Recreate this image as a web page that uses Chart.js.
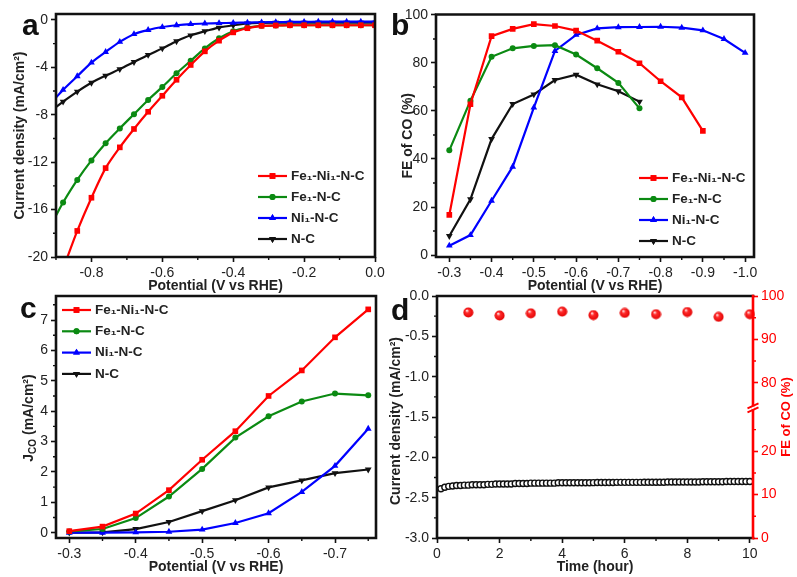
<!DOCTYPE html>
<html>
<head>
<meta charset="utf-8">
<title>CO2 reduction panels</title>
<script src="https://cdn.jsdelivr.net/npm/chart.js@4/dist/chart.umd.js"></script>
<style>
  html, body { margin: 0; padding: 0; background: #fff; }
  #page { position: relative; width: 797px; height: 577px; overflow: hidden; }
  canvas { position: absolute; }
  #chartA { left: 0; top: 0; }
  #chartB { left: 400px; top: 0; }
  #chartC { left: 0; top: 290px; }
  #chartD { left: 380px; top: 290px; }
  .letter { position: absolute; font: bold 30px/30px "Liberation Sans", sans-serif; color: #111; }
</style>
</head>
<body>
<div id="page">
  <canvas id="chartA" width="400" height="296"></canvas>
  <canvas id="chartB" width="397" height="296"></canvas>
  <canvas id="chartC" width="400" height="287"></canvas>
  <canvas id="chartD" width="417" height="287"></canvas>
  <div class="letter" style="left:22px;top:10px">a</div>
  <div class="letter" style="left:391px;top:10px">b</div>
  <div class="letter" style="left:20px;top:293px">c</div>
  <div class="letter" style="left:391px;top:295px">d</div>
</div>
<script>
/* Four panels, each one its own chart. */

const seriesNames = ["Fe₁-Ni₁-N-C", "Fe₁-N-C", "Ni₁-N-C", "N-C"];

// panel a
const aPotential = [-0.9, -0.88, -0.84, -0.8, -0.76, -0.72, -0.68, -0.64, -0.6, -0.56, -0.52, -0.48, -0.44, -0.4, -0.36, -0.32, -0.28, -0.24, -0.2, -0.16, -0.12, -0.08, -0.04, 0];
const aFeNi = [-22.5, -21, -17.8, -15, -12.5, -10.75, -9.2, -7.75, -6.4, -5.05, -3.8, -2.65, -1.75, -1.05, -0.7, -0.5, -0.47, -0.45, -0.45, -0.45, -0.45, -0.45, -0.45, -0.45];
const aFe = [-16.5, -15.4, -13.5, -11.85, -10.4, -9.15, -7.95, -6.75, -5.65, -4.5, -3.45, -2.4, -1.55, -0.95, -0.65, -0.5, -0.47, -0.45, -0.45, -0.45, -0.45, -0.45, -0.45, -0.45];
const aNi = [-6.55, -5.9, -4.75, -3.6, -2.7, -1.85, -1.2, -0.85, -0.6, -0.45, -0.35, -0.3, -0.27, -0.25, -0.22, -0.2, -0.18, -0.17, -0.16, -0.15, -0.15, -0.15, -0.15, -0.15];
const aNC = [-7.35, -6.9, -6.05, -5.3, -4.7, -4.15, -3.55, -2.95, -2.4, -1.8, -1.3, -0.95, -0.65, -0.45, -0.3, -0.25, -0.23, -0.23, -0.23, -0.23, -0.23, -0.23, -0.23, -0.23];
const aXTicks = [-0.8, -0.6, -0.4, -0.2, 0];
const aXMinor = [-0.9, -0.7, -0.5, -0.3, -0.1];
const aYTicks = [-20, -16, -12, -8, -4, 0];
const aYMinor = [-18, -14, -10, -6, -2];

// panel b
const bPotential = [-0.3, -0.35, -0.4, -0.45, -0.5, -0.55, -0.6, -0.65, -0.7, -0.75, -0.8, -0.85, -0.9, -0.95, -1.0];
const bFeNi = [16.7, 62.8, 91.2, 94.2, 96.2, 95.4, 93.5, 89.3, 84.7, 79.9, 72.4, 65.7, 51.7];
const bFe = [43.6, 64.3, 82.6, 86.1, 87.1, 87.4, 83.5, 77.8, 71.7, 61.1];
const bNi = [3.9, 8.3, 22.6, 36.8, 61.4, 85, 91.7, 94.4, 94.9, 95, 95.1, 94.7, 93.6, 90, 84.2];
const bNC = [7.9, 23.2, 48.3, 62.9, 66.9, 72.9, 75.1, 71.1, 68.2, 63.9];
const bXTicks = [-0.3, -0.4, -0.5, -0.6, -0.7, -0.8, -0.9, -1.0];
const bXMinor = [-0.35, -0.45, -0.55, -0.65, -0.75, -0.85, -0.95];
const bYTicks = [0, 20, 40, 60, 80, 100];
const bYMinor = [10, 30, 50, 70, 90];

// panel c
const cPotential = [-0.3, -0.35, -0.4, -0.45, -0.5, -0.55, -0.6, -0.65, -0.7, -0.75];
const cFeNi = [0.05, 0.2, 0.63, 1.4, 2.4, 3.34, 4.5, 5.34, 6.43, 7.35];
const cFe = [0.04, 0.12, 0.48, 1.19, 2.1, 3.13, 3.83, 4.32, 4.58, 4.52];
const cNi = [0, 0, 0.01, 0.03, 0.1, 0.32, 0.64, 1.34, 2.2, 3.42];
const cNC = [0, 0.01, 0.12, 0.35, 0.71, 1.07, 1.49, 1.72, 1.96, 2.08];
const cXTicks = [-0.3, -0.4, -0.5, -0.6, -0.7];
const cXMinor = [-0.35, -0.45, -0.55, -0.65, -0.75];
const cYTicks = [0, 1, 2, 3, 4, 5, 6, 7];
const cYMinor = [0.5, 1.5, 2.5, 3.5, 4.5, 5.5, 6.5, 7.5];

// panel d
const dTime = [0.125, 0.25, 0.375, 0.5, 0.625, 0.75, 0.875, 1, 1.125, 1.25, 1.375, 1.5, 1.625, 1.75, 1.875, 2, 2.125, 2.25, 2.375, 2.5, 2.625, 2.75, 2.875, 3, 3.125, 3.25, 3.375, 3.5, 3.625, 3.75, 3.875, 4, 4.125, 4.25, 4.375, 4.5, 4.625, 4.75, 4.875, 5, 5.125, 5.25, 5.375, 5.5, 5.625, 5.75, 5.875, 6, 6.125, 6.25, 6.375, 6.5, 6.625, 6.75, 6.875, 7, 7.125, 7.25, 7.375, 7.5, 7.625, 7.75, 7.875, 8, 8.125, 8.25, 8.375, 8.5, 8.625, 8.75, 8.875, 9, 9.125, 9.25, 9.375, 9.5, 9.625, 9.75, 9.875, 10];
const dCurrent = [-2.39, -2.37, -2.36, -2.355, -2.35, -2.35, -2.345, -2.345, -2.34, -2.34, -2.34, -2.34, -2.335, -2.335, -2.33, -2.33, -2.33, -2.33, -2.33, -2.325, -2.325, -2.325, -2.325, -2.32, -2.32, -2.32, -2.32, -2.32, -2.32, -2.32, -2.315, -2.315, -2.315, -2.315, -2.315, -2.315, -2.315, -2.315, -2.315, -2.314, -2.312, -2.312, -2.312, -2.312, -2.312, -2.31, -2.31, -2.31, -2.31, -2.31, -2.31, -2.31, -2.308, -2.308, -2.308, -2.308, -2.308, -2.308, -2.305, -2.305, -2.305, -2.305, -2.305, -2.305, -2.305, -2.305, -2.305, -2.302, -2.302, -2.302, -2.302, -2.302, -2.302, -2.3, -2.3, -2.3, -2.3, -2.3, -2.3, -2.3];
const dFeTime = [1, 2, 3, 4, 5, 6, 7, 8, 9, 10];
const dFeValues = [96.2, 95.5, 96, 96.4, 95.6, 96.1, 95.8, 96.3, 95.2, 95.8];
const dXTicks = [0, 2, 4, 6, 8, 10];
const dXMinor = [1, 3, 5, 7, 9];
const dYTicks = [-3, -2.5, -2, -1.5, -1, -0.5, 0];
const dYMinor = [-2.75, -2.25, -1.75, -1.25, -0.75, -0.25];
const dFeTicks = [0, 10, 20, 80, 90, 100];
const dFeMinor = [5, 15, 25, 85, 95];

const RED = "#ff0000";
const GREEN = "#0b8a12";
const BLUE = "#0000ff";
const INK = "#111111";
const TEXT = "#222222";
const FONT = "'Liberation Sans', Arial, sans-serif";

Chart.defaults.font.family = FONT;
Chart.defaults.color = TEXT;
Chart.defaults.animation = false;

// right axis of panel d has a cut between 30 and 74.2
class BrokenScale extends Chart.LinearScale {
  configure() {
    super.configure();
    this._valueRange -= 44.2;
  }
  getPixelForValue(value) {
    const folded = value <= 30 ? value : Math.max(30, value - 44.2);
    return super.getPixelForValue(folded);
  }
}
BrokenScale.id = "broken";
BrokenScale.defaults = Chart.LinearScale.defaults;
Chart.register(BrokenScale);

const styles = [
  { borderColor: RED, backgroundColor: RED, pointStyle: "rect", pointRadius: 4, pointRotation: 0 },
  { borderColor: GREEN, backgroundColor: GREEN, pointStyle: "circle", pointRadius: 3, pointRotation: 0 },
  { borderColor: BLUE, backgroundColor: BLUE, pointStyle: "triangle", pointRadius: 3.9, pointRotation: 0 },
  { borderColor: INK, backgroundColor: INK, pointStyle: "triangle", pointRadius: 3.9, pointRotation: 180 },
];

function zip(xs, ys) {
  return ys.map((y, i) => ({ x: xs[i], y }));
}

function fourSeries(xs, columns, extra) {
  return columns.map((ys, i) => ({
    label: seriesNames[i],
    data: zip(xs, ys),
    borderWidth: 2.2,
    pointBorderWidth: 0,
    ...styles[i],
    ...extra,
  }));
}

// axis box sizes are pinned so each plot sits where it does in the figure
function pinSize(size) {
  return (s) => {
    if (s.isHorizontal()) s.height = size;
    else s.width = size;
    s.paddingLeft = s.paddingRight = s.paddingTop = s.paddingBottom = 0;
  };
}

function axis(opts) {
  return {
    type: opts.type || "linear",
    position: opts.position,
    min: opts.min,
    max: opts.max,
    reverse: !!opts.reverse,
    minorTicks: opts.minor,
    afterBuildTicks: (s) => {
      s.ticks = opts.ticks.map((value) => ({ value }));
    },
    afterFit: pinSize(opts.size),
    border: { display: false },
    grid: { drawOnChartArea: false, tickLength: 5, tickWidth: 1.6, tickColor: opts.tickColor || INK },
    ticks: {
      autoSkip: false,
      maxRotation: 0,
      color: opts.color || TEXT,
      padding: 3,
      font: { size: 14 },
      callback: opts.format,
    },
    title: {
      display: !!opts.title,
      text: opts.title,
      color: TEXT,
      font: { size: 14, weight: "bold" },
      padding: opts.titlePadding || 0,
    },
  };
}

const oneDecimal = (v) => v.toFixed(1);
const plain = (v) => String(v);

const panelFrame = {
  id: "panelFrame",
  afterDraw(chart, args, opts) {
    const { ctx, chartArea: a } = chart;
    ctx.save();
    ctx.lineWidth = 2.6;
    ctx.strokeStyle = INK;
    ctx.lineCap = "square";
    ctx.beginPath();
    ctx.moveTo(a.right, a.top);
    ctx.lineTo(a.left, a.top);
    ctx.lineTo(a.left, a.bottom);
    ctx.lineTo(a.right, a.bottom);
    if (!opts.rightColor) ctx.lineTo(a.right, a.top);
    ctx.stroke();
    if (opts.rightColor) {
      ctx.strokeStyle = opts.rightColor;
      ctx.beginPath();
      ctx.moveTo(a.right, a.top);
      ctx.lineTo(a.right, a.bottom);
      ctx.stroke();
    }

    // minor ticks, Chart.js has none of its own
    Object.values(chart.scales).forEach((s) => {
      ctx.strokeStyle = s.options.grid.tickColor;
      ctx.lineWidth = 1.4;
      ctx.lineCap = "butt";
      ctx.beginPath();
      (s.options.minorTicks || []).forEach((v) => {
        const p = s.getPixelForValue(v);
        if (s.isHorizontal()) {
          ctx.moveTo(p, a.bottom);
          ctx.lineTo(p, a.bottom + 3);
        } else if (s.options.position === "right") {
          ctx.moveTo(a.right, p);
          ctx.lineTo(a.right + 3, p);
        } else {
          ctx.moveTo(a.left, p);
          ctx.lineTo(a.left - 3, p);
        }
      });
      ctx.stroke();
    });

    if (opts.breakValue !== undefined) {
      const y = chart.scales.y1.getPixelForValue(opts.breakValue);
      ctx.strokeStyle = "#fff";
      ctx.lineWidth = 3;
      ctx.beginPath();
      ctx.moveTo(a.right, y - 1.5);
      ctx.lineTo(a.right, y + 1.5);
      ctx.stroke();
      ctx.strokeStyle = opts.rightColor;
      ctx.lineWidth = 2;
      ctx.beginPath();
      [-2, 2].forEach((d) => {
        ctx.moveTo(a.right - 5.5, y + d + 2.5);
        ctx.lineTo(a.right + 5.5, y + d - 2.5);
      });
      ctx.stroke();
    }
    ctx.restore();
  },
};

// line + marker key, the built-in legend only does one or the other
const seriesKey = {
  id: "seriesKey",
  afterDraw(chart, args, opts) {
    if (!opts.x) return;
    const { ctx } = chart;
    ctx.save();
    ctx.font = "bold 13.5px " + FONT;
    ctx.textBaseline = "middle";
    seriesNames.forEach((name, i) => {
      const y = opts.y + i * opts.gap;
      ctx.strokeStyle = styles[i].borderColor;
      ctx.fillStyle = styles[i].backgroundColor;
      ctx.lineWidth = 2.2;
      ctx.beginPath();
      ctx.moveTo(opts.x, y);
      ctx.lineTo(opts.x + 29, y);
      ctx.stroke();
      Chart.helpers.drawPoint(ctx, {
        pointStyle: styles[i].pointStyle,
        rotation: styles[i].pointRotation,
        radius: styles[i].pointRadius,
        borderWidth: 0,
      }, opts.x + 14.5, y);
      ctx.fill();
      ctx.fillStyle = TEXT;
      ctx.fillText(name, opts.x + 33, y);
    });
    ctx.restore();
  },
};

// titles the scale can't do: J_CO subscript, and the right title in d reads upward
const handTitles = {
  id: "handTitles",
  afterDraw(chart, args, opts) {
    const { ctx } = chart;
    (opts.list || []).forEach((t) => {
      const size = t.size || 14;
      const runFont = (r) => "bold " + (r.sub ? size - 4 : size) + "px " + FONT;
      ctx.save();
      ctx.translate(t.x, t.y);
      ctx.rotate(-Math.PI / 2);
      ctx.fillStyle = t.color || TEXT;
      ctx.textBaseline = "alphabetic";
      const widths = t.runs.map((r) => {
        ctx.font = runFont(r);
        return ctx.measureText(r.text).width;
      });
      let pos = -widths.reduce((a, b) => a + b, 0) / 2;
      t.runs.forEach((r, i) => {
        ctx.font = runFont(r);
        ctx.fillText(r.text, pos, r.sub ? 3 : 0);
        pos += widths[i];
      });
      ctx.restore();
    });
  },
};

Chart.register(panelFrame, seriesKey, handTitles);

function initPanelA() {
  new Chart(document.getElementById("chartA"), {
    type: "line",
    data: {
      datasets: fourSeries(aPotential, [aFeNi, aFe, aNi, aNC], {
        tension: 0.3,
        pointRadius: (ctx) => (ctx.dataIndex === 0 ? 0 : styles[ctx.datasetIndex].pointRadius),
      }),
    },
    options: {
      responsive: false,
      layout: { padding: { top: 14, right: 25 } },
      plugins: {
        legend: { display: false },
        tooltip: { enabled: false },
        seriesKey: { x: 258, y: 176, gap: 21 },
      },
      scales: {
        x: axis({ position: "bottom", min: -0.9, max: 0, ticks: aXTicks, minor: aXMinor, format: oneDecimal, size: 39, title: "Potential (V vs RHE)", titlePadding: 1 }),
        y: axis({ position: "left", min: -20, max: 0.5, ticks: aYTicks, minor: aYMinor, format: plain, size: 56, title: "Current density (mA/cm²)", titlePadding: 12 }),
      },
    },
  });
}

function initPanelB() {
  new Chart(document.getElementById("chartB"), {
    type: "line",
    data: { datasets: fourSeries(bPotential, [bFeNi, bFe, bNi, bNC], {}) },
    options: {
      responsive: false,
      layout: { padding: { top: 14.5, right: 43 } },
      plugins: {
        legend: { display: false },
        tooltip: { enabled: false },
        seriesKey: { x: 239, y: 178, gap: 21 },
      },
      scales: {
        x: axis({ position: "bottom", reverse: true, min: -1.021, max: -0.2685, ticks: bXTicks, minor: bXMinor, format: oneDecimal, size: 39, title: "Potential (V vs RHE)", titlePadding: 1 }),
        y: axis({ position: "left", min: -0.83, max: 100.2, ticks: bYTicks, minor: bYMinor, format: plain, size: 36, title: "FE of CO (%)", titlePadding: 0 }),
      },
    },
  });
}

function initPanelC() {
  new Chart(document.getElementById("chartC"), {
    type: "line",
    data: { datasets: fourSeries(cPotential, [cFeNi, cFe, cNi, cNC], {}) },
    options: {
      responsive: false,
      layout: { padding: { top: 6, right: 24 } },
      plugins: {
        legend: { display: false },
        tooltip: { enabled: false },
        seriesKey: { x: 62, y: 20, gap: 21.3 },
        handTitles: { list: [{ x: 33, y: 128, runs: [{ text: "J" }, { text: "CO", sub: true }, { text: " (mA/cm²)" }] }] },
      },
      scales: {
        x: axis({ position: "bottom", reverse: true, min: -0.7617, max: -0.28, ticks: cXTicks, minor: cXMinor, format: oneDecimal, size: 39, title: "Potential (V vs RHE)", titlePadding: 1 }),
        y: axis({ position: "left", min: -0.175, max: 7.79, ticks: cYTicks, minor: cYMinor, format: plain, size: 56 }),
      },
    },
  });
}

function redBall() {
  const size = 11;
  const c = document.createElement("canvas");
  c.width = c.height = size;
  const g = c.getContext("2d");
  const fill = g.createRadialGradient(4, 3.5, 0.4, 5.5, 5.5, 5.5);
  fill.addColorStop(0, "#ffe0e0");
  fill.addColorStop(0.3, "#ff2a2a");
  fill.addColorStop(1, "#e00000");
  g.fillStyle = fill;
  g.beginPath();
  g.arc(5.5, 5.5, 5, 0, Math.PI * 2);
  g.fill();
  return c;
}

function initPanelD() {
  new Chart(document.getElementById("chartD"), {
    type: "line",
    data: {
      datasets: [
        {
          data: zip(dTime, dCurrent),
          yAxisID: "y",
          showLine: false,
          pointStyle: "circle",
          pointRadius: 3,
          pointBorderWidth: 1.4,
          pointBorderColor: INK,
          pointBackgroundColor: "#fff",
          clip: false,
        },
        {
          data: zip(dFeTime, dFeValues),
          yAxisID: "y1",
          showLine: false,
          pointStyle: redBall(),
          clip: false,
        },
      ],
    },
    options: {
      responsive: false,
      layout: { padding: { top: 6 } },
      plugins: {
        legend: { display: false },
        tooltip: { enabled: false },
        panelFrame: { rightColor: RED, breakValue: 30 },
        handTitles: {
          list: [
            { x: 20, y: 131, runs: [{ text: "Current density (mA/cm²)" }] },
            { x: 410, y: 127, size: 13, color: RED, runs: [{ text: "FE of CO (%)" }] },
          ],
        },
      },
      scales: {
        x: axis({ position: "bottom", min: 0, max: 10.1, ticks: dXTicks, minor: dXMinor, format: plain, size: 39, title: "Time (hour)", titlePadding: 1 }),
        y: axis({ position: "left", min: -3, max: 0, ticks: dYTicks, minor: dYMinor, format: oneDecimal, size: 57 }),
        y1: axis({ type: "broken", position: "right", min: 0, max: 100, ticks: dFeTicks, minor: dFeMinor, format: plain, size: 44, color: RED, tickColor: RED }),
      },
    },
  });
}

initPanelA();
initPanelB();
initPanelC();
initPanelD();
</script>
</body>
</html>
